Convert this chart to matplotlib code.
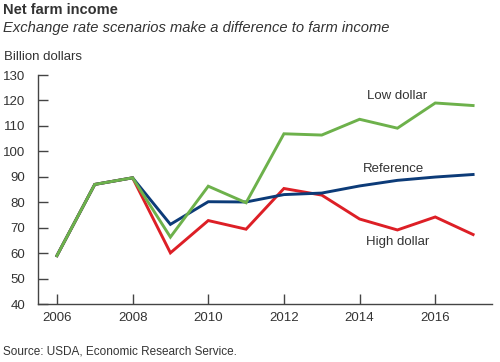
import matplotlib.pyplot as plt

plt.rcParams['font.family'] = ['Liberation Sans', 'DejaVu Sans']

years = [2006, 2007, 2008, 2009, 2010, 2011, 2012, 2013, 2014, 2015, 2016, 2017]
reference = [59, 87, 89.6, 71.3, 80.2, 80.1, 83, 83.6, 86.4, 88.6, 89.9, 90.9]
low_dollar = [59, 87, 89.6, 66.3, 86.3, 79.8, 106.9, 106.4, 112.6, 109.1, 119, 118]
high_dollar = [59, 87, 89.6, 60.1, 72.8, 69.4, 85.4, 82.8, 73.4, 69.1, 74.2, 67.3]

green = '#6db14b'
navy = '#0c3b78'
red = '#dd1f26'
grey = '#333333'

fig = plt.figure(figsize=(5, 3.62), dpi=100)
ax = fig.add_axes([0.076, 0.1602, 0.908, 0.6326])

ax.plot(years, high_dollar, color=red, lw=2.1, solid_joinstyle='miter')
ax.plot(years, reference, color=navy, lw=2.1, solid_joinstyle='miter')
ax.plot(years, low_dollar, color=green, lw=2.1, solid_joinstyle='miter')

ax.text(2015, 121.7, 'Low dollar', ha='center', va='center', fontsize=9.5, color=grey)
ax.text(2014.9, 93, 'Reference', ha='center', va='center', fontsize=9.5, color=grey)
ax.text(2015, 64.5, 'High dollar', ha='center', va='center', fontsize=9.5, color=grey)

ax.set_xlim(2005.5, 2017.5)
ax.set_ylim(40, 130)
ax.set_xticks([2006, 2008, 2010, 2012, 2014, 2016])
ax.set_yticks(range(40, 131, 10))
ax.tick_params(axis='both', direction='in', length=7, width=1, color='#444444',
               labelcolor=grey, labelsize=9.5)
ax.tick_params(axis='y', pad=9)
ax.tick_params(axis='x', pad=6)
for s in ['top', 'right']:
    ax.spines[s].set_visible(False)
for s in ['left', 'bottom']:
    ax.spines[s].set_color('#444444')
    ax.spines[s].set_linewidth(1)

fig.text(0.006, 0.972, 'Net farm income', fontsize=10.5, fontweight='bold',
         color=grey, va='center')
fig.text(0.006, 0.922, 'Exchange rate scenarios make a difference to farm income',
         fontsize=10.6, style='italic', color=grey, va='center')
fig.text(0.008, 0.843, 'Billion dollars', fontsize=9.5, color=grey, va='center')
fig.text(0.006, 0.028, 'Source: USDA, Economic Research Service.', fontsize=8.5,
         color=grey, va='center')

fig.savefig('out.png', dpi=100)
